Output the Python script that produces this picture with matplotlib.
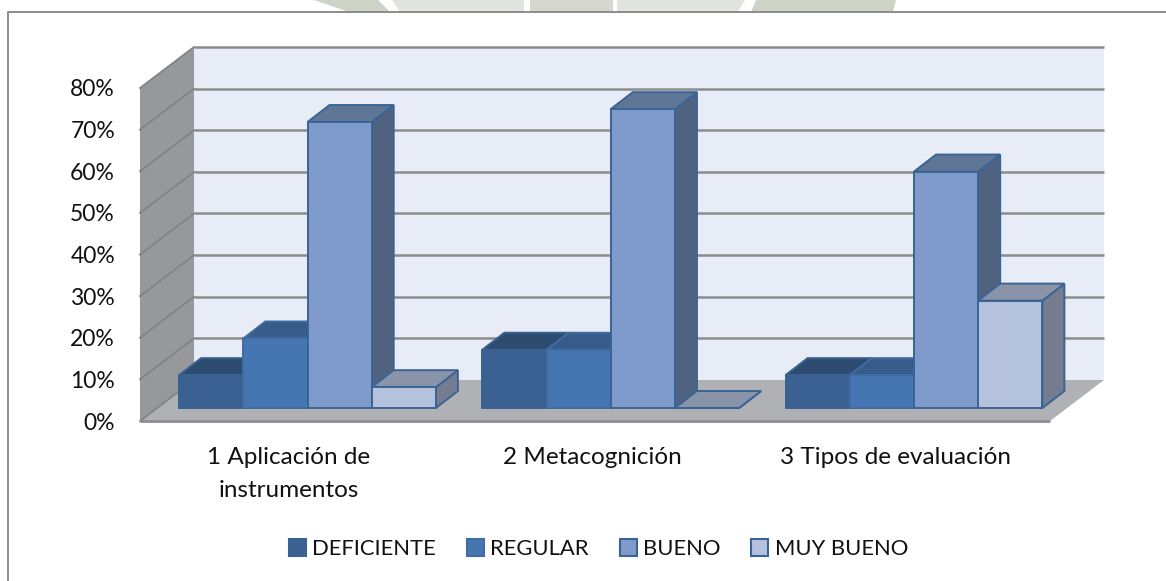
import numpy as np
import matplotlib
matplotlib.use("Agg")
import matplotlib.pyplot as plt
from matplotlib.patches import Patch, Polygon

plt.rcParams['font.family'] = ['Lato', 'DejaVu Sans']

# Values (percent)
categories = ["1 Aplicación de\ninstrumentos", "2 Metacognición", "3 Tipos de evaluación"]
series_names = ["DEFICIENTE", "REGULAR", "BUENO", "MUY BUENO"]
deficiente = [7.9, 14, 7.9]
regular = [16.7, 14, 7.9]
bueno = [68.7, 71.8, 56.8]
muy_bueno = [5, 0, 25.8]
y_ticks = [0, 10, 20, 30, 40, 50, 60, 70, 80]

series_values = [deficiente, regular, bueno, muy_bueno]

# Colours per series: front, top, side, edge
front_colors = ['#3A6191', '#4676B2', '#7F9BCB', '#B5C2DD']
top_colors = ['#2D4A6F', '#375C89', '#5F7697', '#8994A8']
side_colors = ['#2D4A6F', '#375C89', '#4F627F', '#757C8F']
edge_colors = ['#3A6191', '#3F6CA3', '#3A6496', '#3A6496']

W, H = 1166, 581
fig = plt.figure(figsize=(W / 100, H / 100), dpi=100, facecolor='white')


def fig_poly(points, color):
    pts = [(x / W, 1 - y / H) for x, y in points]
    fig.add_artist(Polygon(pts, closed=True, transform=fig.transFigure, facecolor=color, edgecolor='none'))


# Bits of the page watermark above the chart frame
fig_poly([(314, 0), (378, 0), (390, 12), (349, 12)], '#CDD3C6')
fig_poly([(392, 0), (524, 0), (524, 12), (400, 12)], '#DFE4DF')
fig_poly([(530, 0), (613, 0), (613, 12), (530, 12)], '#D6D8D0')
fig_poly([(617, 0), (745, 0), (738, 12), (617, 12)], '#DFE4DF')
fig_poly([(756, 0), (896, 0), (893, 12), (751, 12)], '#CDD3C6')

# Chart frame, runs off the page on the right and bottom
fig.add_artist(plt.Line2D([7.5 / W, 7.5 / W, 1], [0, 1 - 12 / H, 1 - 12 / H],
                          color='#8C8C8C', lw=1.4, transform=fig.transFigure))

# Axes cover the front plane of the 3D box: 0-80 % and the floor front edge
ax = fig.add_axes([140 / W, (H - 421) / H, 910 / W, 333 / H])
ax.patch.set_alpha(0)
unit_x = 303.25
unit_y = 333 / 80
ax.set_xlim((140 - 307.5) / unit_x, (1050 - 307.5) / unit_x)
ax.set_ylim(0, 80)

x0, x1 = ax.get_xlim()
wall_dx = 54 / unit_x
wall_dy = 41 / unit_y
wall_top = 80 + wall_dy

# Back wall, side wall, floor
ax.add_patch(Polygon([(x0 + wall_dx, wall_dy), (x1 + wall_dx, wall_dy), (x1 + wall_dx, wall_top), (x0 + wall_dx, wall_top)],
                     facecolor='#E8ECF6', edgecolor='none', clip_on=False, zorder=1))
ax.add_patch(Polygon([(x0, 0), (x0 + wall_dx, wall_dy), (x0 + wall_dx, wall_top), (x0, 80)],
                     facecolor='#97989B', edgecolor='none', clip_on=False, zorder=1))
ax.add_patch(Polygon([(x0, 0), (x1, 0), (x1 + wall_dx, wall_dy), (x0 + wall_dx, wall_dy)],
                     facecolor='#AFB1B5', edgecolor='none', clip_on=False, zorder=1))

# Gridlines on the walls
for t in y_ticks:
    if t > 0:
        ax.plot([x0 + wall_dx, x1 + wall_dx], [t + wall_dy, t + wall_dy], color='#8C8C8C', lw=1.8,
                clip_on=False, zorder=2, solid_capstyle='butt')
    ax.plot([x0, x0 + wall_dx], [t, t + wall_dy], color='#828385', lw=1.3, clip_on=False, zorder=2)
ax.plot([x0, x1], [0, 0], color='#8C8C8C', lw=2.0, clip_on=False, zorder=2, solid_capstyle='butt')

# Bars
bar_w = 64.2 / unit_x
base = 13 / unit_y
depth_x = 22 / unit_x
depth_y = 17 / unit_y
positions = np.arange(len(categories))

z = 3
for i, values in enumerate(series_values):
    offset = (i - 1.5) * bar_w
    for p, v in zip(positions, values):
        left = p + offset - bar_w / 2
        right = left + bar_w
        top = base + v
        ax.add_patch(Polygon([(right, base), (right + depth_x, base + depth_y), (right + depth_x, top + depth_y), (right, top)],
                             facecolor=side_colors[i], edgecolor=edge_colors[i], lw=1.4, clip_on=False, zorder=z))
        ax.add_patch(Polygon([(left, top), (right, top), (right + depth_x, top + depth_y), (left + depth_x, top + depth_y)],
                             facecolor=top_colors[i], edgecolor=edge_colors[i], lw=1.4, clip_on=False, zorder=z))
        ax.bar(p + offset, v, width=bar_w, bottom=base, color=front_colors[i], edgecolor=edge_colors[i],
               linewidth=1.4, clip_on=False, zorder=z + 1)
        z += 2

# Axes text, category labels sit on the front plane so they are left of the bars
ax.set_yticks(y_ticks)
ax.set_yticklabels([f"{t}%" for t in y_ticks])
ax.set_xticks(positions - 18.5 / unit_x)
ax.set_xticklabels(categories, linespacing=1.73, va='top')
ax.tick_params(axis='y', length=0, pad=18, labelsize=16.5, labelcolor='#111111')
ax.tick_params(axis='x', length=0, pad=18.5, labelsize=17.5, labelcolor='#111111')
for side in ax.spines.values():
    side.set_visible(False)

# Legend
handles = [Patch(facecolor=front_colors[i], edgecolor=edge_colors[i], lw=1.5) for i in range(4)]
fig.legend(handles, series_names, loc='center', bbox_to_anchor=(598.5 / W, 1 - 549 / H), ncol=4, frameon=False,
           fontsize=15.8, labelcolor='#111111', handlelength=0.77, handleheight=0.77, handletextpad=0.28,
           columnspacing=1.42, borderpad=0)

fig.savefig("out.png", dpi=100)
